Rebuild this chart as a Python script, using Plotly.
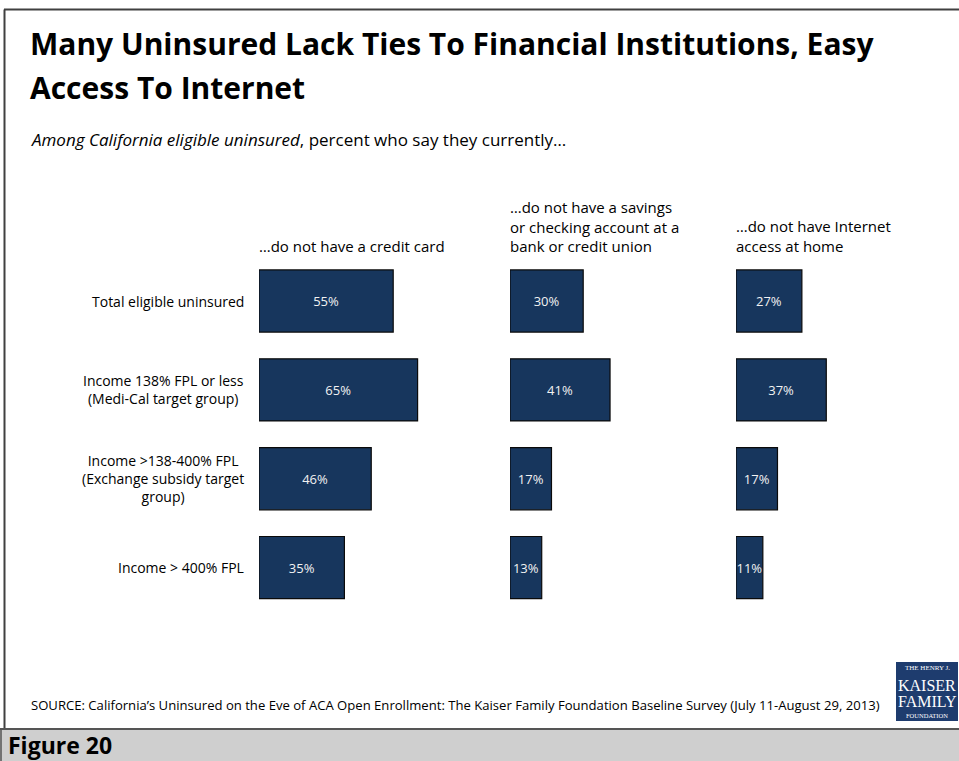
import plotly.graph_objects as go

# Survey groups (rows) and the three measures (columns)
groups = [
    "Total eligible uninsured",
    "Income 138% FPL or less<br>(Medi-Cal target group)",
    "Income >138-400% FPL<br>(Exchange subsidy target<br>group)",
    "Income > 400% FPL",
]
measures = [
    "…do not have a credit card",
    "…do not have a savings<br>or checking account at a<br>bank or credit union",
    "…do not have Internet<br>access at home",
]
no_credit_card = [55, 65, 46, 35]
no_bank_account = [30, 41, 17, 13]
no_internet = [27, 37, 17, 11]
series = [no_credit_card, no_bank_account, no_internet]

title_lines = ["Many Uninsured Lack Ties To Financial Institutions, Easy", "Access To Internet"]

W, H = 959, 761
BAR_FILL = "#17365D"
FONT = "Open Sans"

# Pixel layout of the three bar panels
col_left = [259, 510, 736]
col_width = 200
px_per_pct = 2.44
y_top, y_bot = 256.6, 612.0

fig = go.Figure()
axes = ["x", "x2", "x3"]
for i, vals in enumerate(series):
    fig.add_trace(go.Bar(
        x=vals, y=groups, orientation="h",
        xaxis=axes[i], yaxis="y",
        marker=dict(color=BAR_FILL, line=dict(color="#0a0a0a", width=1.2)),
        width=0.70,
        text=[f"{v}%" for v in vals],
        textposition="inside", insidetextanchor="middle",
        textangle=0, constraintext="none",
        textfont=dict(family=FONT, size=13, color="#f2f2f2"),
        hoverinfo="skip", showlegend=False,
    ))

layout = dict(
    width=W, height=H,
    margin=dict(l=0, r=0, t=0, b=0),
    paper_bgcolor="white", plot_bgcolor="rgba(0,0,0,0)",
    font=dict(family=FONT, color="#111111"),
    bargap=0.3,
    yaxis=dict(
        domain=[1 - y_bot / H, 1 - y_top / H],
        categoryorder="array", categoryarray=groups,
        range=[3.5, -0.5], showticklabels=False,
        showgrid=False, zeroline=False, showline=False, anchor="x",
    ),
)
for i, ax in enumerate(["xaxis", "xaxis2", "xaxis3"]):
    x0 = col_left[i]
    layout[ax] = dict(
        domain=[x0 / W, (x0 + col_width) / W],
        range=[0, col_width / px_per_pct],
        visible=False, anchor="y",
    )
fig.update_layout(**layout)

annotations = []

def px(x):
    return x / W

def py(y):
    return 1 - y / H

# Two-line title
for line, yy in zip(title_lines, [43.5, 87]):
    annotations.append(dict(
        x=px(28), y=py(yy), xref="paper", yref="paper", xanchor="left", yanchor="middle",
        showarrow=False, text=f"<b>{line}</b>",
        font=dict(family=FONT, size=30, color="#000000"),
    ))

# Subtitle
annotations.append(dict(
    x=px(29), y=py(139), xref="paper", yref="paper", xanchor="left", yanchor="middle",
    showarrow=False,
    text="<i>Among California eligible uninsured</i>, percent who say they currently…",
    font=dict(family=FONT, size=17, color="#000000"),
))

# Column headers, bottom-aligned above the bars
for i, m in enumerate(measures):
    annotations.append(dict(
        x=px(col_left[i] - 2), y=py(258), xref="paper", yref="paper",
        xanchor="left", yanchor="bottom", align="left", showarrow=False,
        text=m, font=dict(family=FONT, size=15, color="#000000"),
    ))

# Row labels
for g in groups:
    annotations.append(dict(
        x=px(246), y=g, xref="paper", yref="y",
        xanchor="right", yanchor="middle", align="center", showarrow=False,
        text=g, font=dict(family=FONT, size=14, color="#000000"),
    ))

# Source note
annotations.append(dict(
    x=px(29), y=py(705), xref="paper", yref="paper", xanchor="left", yanchor="middle",
    showarrow=False,
    text="SOURCE: California’s Uninsured on the Eve of ACA Open Enrollment: The Kaiser Family Foundation Baseline Survey (July 11-August 29, 2013)",
    font=dict(family=FONT, size=13.1, color="#000000"),
))

# Foundation logo text
logo_lines = [("THE HENRY J.", 7, 668), ("KAISER", 16, 685), ("FAMILY", 16, 701), ("FOUNDATION", 6.5, 715)]
for txt, sz, yy in logo_lines:
    annotations.append(dict(
        x=px(927), y=py(yy), xref="paper", yref="paper", xanchor="center", yanchor="middle",
        showarrow=False, text=txt,
        font=dict(family="Liberation Serif", size=sz, color="white"),
    ))

# Figure label in the footer band
annotations.append(dict(
    x=px(6), y=py(745), xref="paper", yref="paper", xanchor="left", yanchor="middle",
    showarrow=False, text="<b>Figure 20</b>",
    font=dict(family=FONT, size=23, color="#000000"),
))

shapes = [
    # frame
    dict(type="line", xref="paper", yref="paper", x0=px(4), x1=1.01, y0=py(9.5), y1=py(9.5),
         line=dict(color="#404040", width=2)),
    dict(type="line", xref="paper", yref="paper", x0=px(4.5), x1=px(4.5), y0=py(9.5), y1=py(729),
         line=dict(color="#404040", width=2)),
    # footer band
    dict(type="rect", xref="paper", yref="paper", x0=0, x1=1, y0=0, y1=py(729),
         fillcolor="#CFCFCF", line=dict(width=0), layer="below"),
    dict(type="line", xref="paper", yref="paper", x0=0, x1=1, y0=py(729), y1=py(729),
         line=dict(color="#555555", width=2)),
    dict(type="line", xref="paper", yref="paper", x0=px(1), x1=px(1), y0=0, y1=py(729),
         line=dict(color="#555555", width=1.5)),
    # logo box
    dict(type="rect", xref="paper", yref="paper", x0=px(896), x1=px(958), y0=py(721), y1=py(662),
         fillcolor="#1E3C6E", line=dict(width=0)),
]

fig.update_layout(annotations=annotations, shapes=shapes)
fig.write_html("out.html")
